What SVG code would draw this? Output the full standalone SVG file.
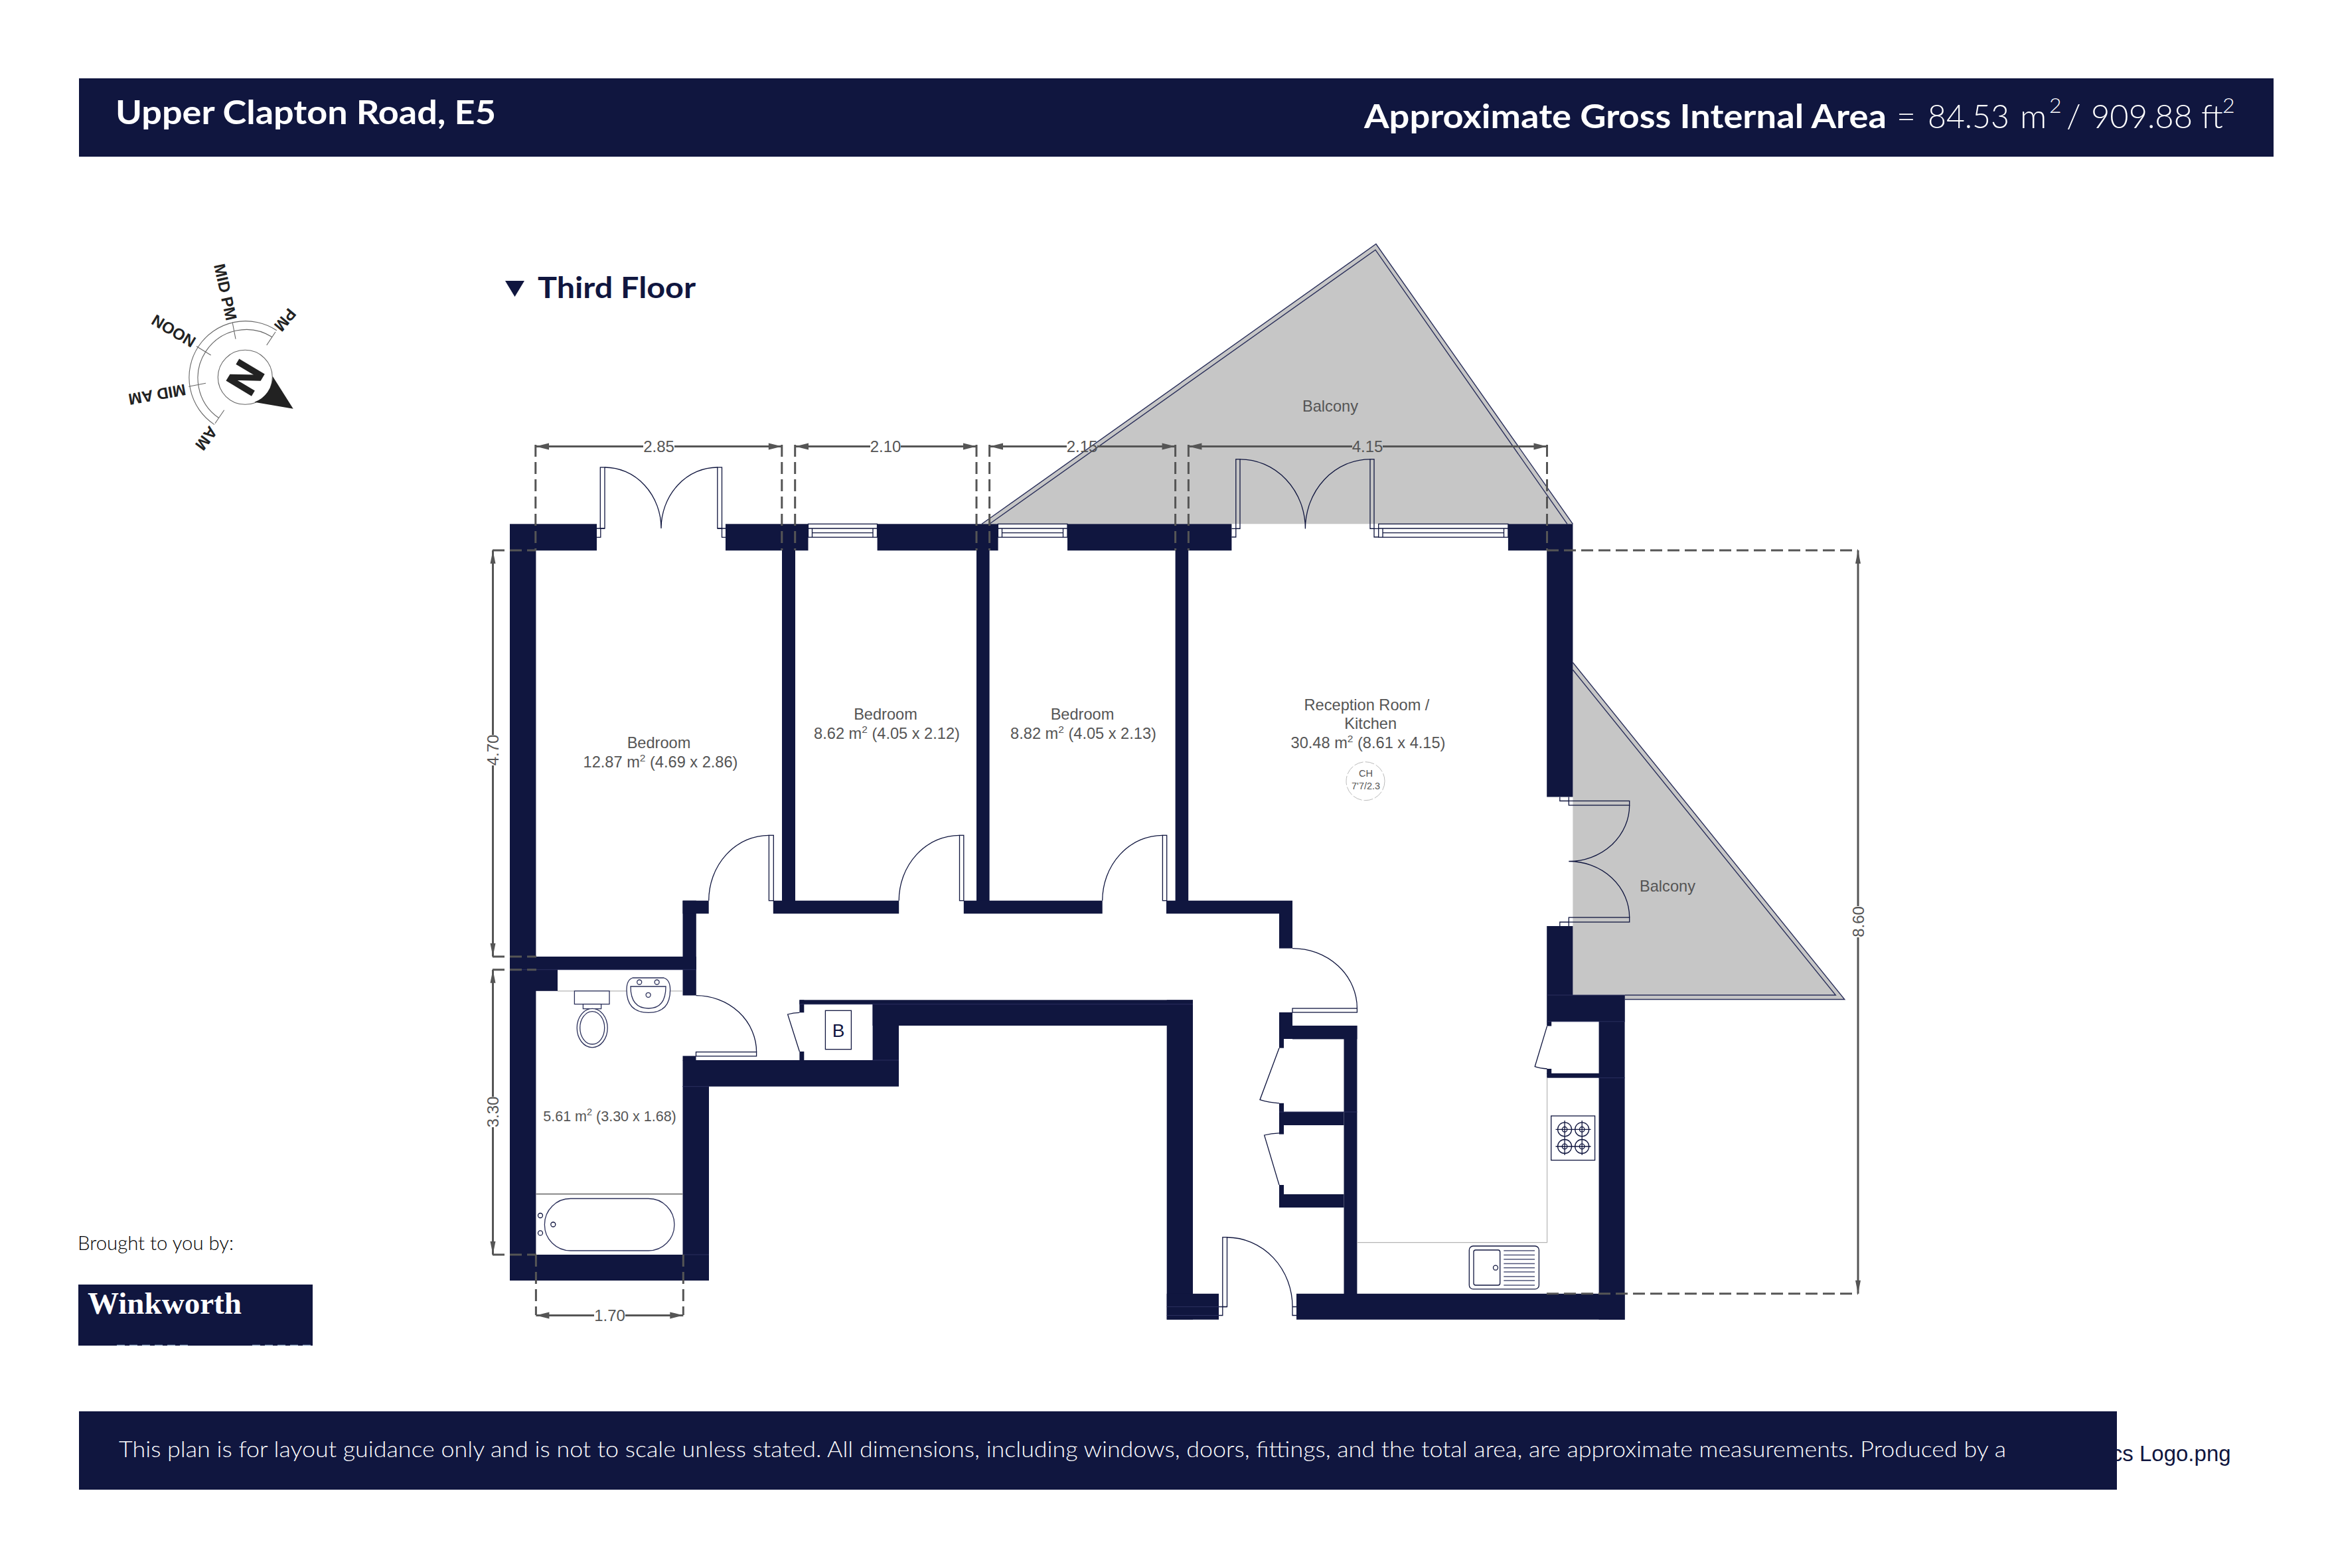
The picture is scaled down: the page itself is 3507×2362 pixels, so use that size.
<svg xmlns="http://www.w3.org/2000/svg" width="3507" height="2362" viewBox="0 0 3507 2362">
<style>
.navy{fill:#10163f}
.l{fill:none;stroke:#10163f;stroke-width:1.3}
.win{fill:#fff;stroke:#10163f;stroke-width:1.3}
.sf{fill:#fff;stroke:#2a2f5a;stroke-width:1.3}
.dim{stroke:#555;stroke-width:3;fill:none}
.dash{stroke:#555;stroke-width:3;fill:none;stroke-dasharray:18 8}
.ah{fill:#555}
.t{font-family:"Liberation Sans",Arial,sans-serif;font-size:23.6px;fill:#555;text-anchor:middle}
.d{font-family:"Liberation Sans",Arial,sans-serif;font-size:24px;fill:#555;text-anchor:middle}
.h{font-family:Lato,"Liberation Sans",sans-serif;fill:#fff}
.c{font-family:"Liberation Sans",Arial,sans-serif;font-weight:bold;font-size:24px;fill:#222;text-anchor:middle}
</style>
<rect width="3507" height="2362" fill="#fff"/>
<g id="header">
<rect class="navy" x="119" y="118" width="3306" height="118"/>
<text class="h" x="174" y="187" font-size="50" font-weight="700" textLength="573" lengthAdjust="spacingAndGlyphs">Upper Clapton Road, E5</text>
<text class="h" x="2055" y="193" font-size="50" font-weight="700" textLength="787" lengthAdjust="spacingAndGlyphs">Approximate Gross Internal Area</text>
<text class="h" x="2857" y="193" font-size="50" font-weight="300">=</text>
<text class="h" x="2904" y="193" font-size="50" font-weight="300" textLength="123" lengthAdjust="spacingAndGlyphs">84.53</text>
<text class="h" x="3043" y="193" font-size="50" font-weight="300">m</text>
<text class="h" x="3087" y="170" font-size="32" font-weight="300">2</text>
<text class="h" x="3113" y="193" font-size="50" font-weight="300">/</text>
<text class="h" x="3150" y="193" font-size="50" font-weight="300" textLength="153" lengthAdjust="spacingAndGlyphs">909.88</text>
<text class="h" x="3316" y="193" font-size="50" font-weight="300">ft</text>
<text class="h" x="3348" y="170" font-size="32" font-weight="300">2</text>
</g>
<g id="compass">
<path d="M416.8 497.8A85 85 0 0 0 323 639.6M410.1 507.8A73 73 0 0 0 329.5 629.5M415 500L401.7 520M350 485L355 510.7M296 521.7L317.7 535M284.3 582.3L310 577.3M324 637.7L337.7 617.7" fill="none" stroke="#666" stroke-width="1.1"/>
<circle cx="369.3" cy="568.3" r="41" fill="none" stroke="#666" stroke-width="1.1"/>
<path d="M410.7 566.7L441.7 615.7L383.3 605.7A41 41 0 0 0 410.7 566.7Z" fill="#222"/>
<text transform="translate(369.3 568.3) rotate(-59)" y="22" text-anchor="middle" font-family="Liberation Sans,Arial,sans-serif" font-weight="bold" font-size="63" fill="#222" stroke="#222" stroke-width="1.5">N</text>
<text class="c" transform="translate(339.3 440) rotate(77.5)" y="8">MID PM</text>
<text class="c" transform="translate(429.3 481.7) rotate(130)" y="8">PM</text>
<text class="c" transform="translate(261.7 498.3) rotate(211)" y="8">NOON</text>
<text class="c" transform="translate(236.7 594) rotate(170)" y="8">MID AM</text>
<text class="c" transform="translate(310.7 660) rotate(127)" y="8">AM</text>
</g>
<g id="floor-title">
<path class="navy" d="M761 423H790L775.5 447Z"/>
<text x="810" y="449" font-family="Lato,Liberation Sans,sans-serif" font-weight="700" font-size="44" class="navy" textLength="238" lengthAdjust="spacingAndGlyphs">Third Floor</text>
</g>
<g id="balconies">
<path d="M1479 789.3L2072.9 367.5L2369.4 789.3Z" fill="#c6c6c6" stroke="none"/>
<path d="M1479 789.3L2072.9 367.5L2369.4 789.3M1490.6 789.3L2072 376.4L2361 789.3" fill="none" stroke="#2a2f5a" stroke-width="1.4"/>
<path d="M2369.4 998L2778.8 1505.5H2447.8V1499H2369.4Z" fill="#c6c6c6"/>
<path d="M2369.4 998L2778.8 1505.5H2447.8M2369.4 1009L2765.3 1499H2447.8" fill="none" stroke="#2a2f5a" stroke-width="1.4"/>
</g>
<g id="walls" class="navy">
<rect x="768" y="789.3" width="131" height="40"/>
<rect x="1093" y="789.3" width="124.5" height="40"/>
<rect x="1321.6" y="789.3" width="182" height="40"/>
<rect x="1608" y="789.3" width="247.4" height="40"/>
<rect x="2271.9" y="789.3" width="97.5" height="40"/>
<rect x="768" y="829" width="39.4" height="1100"/>
<rect x="1178" y="829" width="20" height="528"/>
<rect x="1471" y="829" width="19.6" height="528"/>
<rect x="1770.6" y="829" width="19.6" height="528"/>
<rect x="2330.2" y="829" width="39.2" height="371.5"/>
<rect x="2330.2" y="1395" width="39.2" height="104"/>
<rect x="2330.2" y="1499" width="117.6" height="39.8"/>
<rect x="2408.6" y="1538" width="39" height="450"/>
<rect x="2330.2" y="1616.8" width="80" height="6.9"/>
<rect x="2330.2" y="1538" width="7" height="7.6"/>
<rect x="2330.2" y="1610" width="7" height="8"/>
<rect x="1953" y="1948.8" width="494.6" height="39"/>
<rect x="1757.7" y="1506.4" width="39.3" height="481.4"/>
<rect x="1757.7" y="1948.8" width="78.3" height="39"/>
<rect x="1164.8" y="1356.7" width="189.4" height="19.6"/>
<rect x="1451.8" y="1356.7" width="208.9" height="19.6"/>
<rect x="1757" y="1356.7" width="190" height="19.6"/>
<rect x="1927" y="1376" width="20" height="52.6"/>
<rect x="1927" y="1525" width="20" height="40"/>
<rect x="1947" y="1545" width="97.4" height="20.4"/>
<rect x="2024.5" y="1545" width="19.9" height="404"/>
<rect x="1927" y="1565" width="7" height="13.7"/>
<rect x="1927" y="1675" width="97.5" height="20"/>
<rect x="1927" y="1661.8" width="7" height="13.5"/>
<rect x="1927" y="1695" width="7" height="13.6"/>
<rect x="1927" y="1799" width="97.5" height="20"/>
<rect x="1927" y="1785" width="7" height="14"/>
<rect x="1204.4" y="1506.3" width="592.6" height="6.4"/>
<rect x="1314.6" y="1512" width="482.4" height="33"/>
<rect x="1314.6" y="1512" width="39.4" height="90"/>
<rect x="1028.5" y="1597" width="325.5" height="39.7"/>
<rect x="1204.4" y="1506.3" width="6.9" height="19"/>
<rect x="1204.4" y="1584" width="6.9" height="13.5"/>
<rect x="1028.5" y="1636" width="39.5" height="293"/>
<rect x="768" y="1890" width="300" height="39"/>
<rect x="1028.5" y="1356.7" width="20.3" height="142.8"/>
<rect x="1028.5" y="1356.7" width="39.2" height="19.6"/>
<rect x="768" y="1441" width="280.8" height="19.7"/>
<rect x="807" y="1460" width="33" height="32.8"/>
<rect x="1028.5" y="1590.6" width="20" height="7"/>
</g>
<path id="seams" d="M768 1460.7H1048.8M1028.5 1636.7H1068M1028.5 1890H1068M1314.6 1597H1354M1204.4 1512.7H1797M2330.2 1499H2447.8M2330.2 1538.8H2447.8M2408.6 1623.7H2447.8M1757.7 1968.5H1836M1757.7 1981.5H1836M1927 1675H2044.4" fill="none" stroke="#2a2f5e" stroke-width="1"/>
<g id="windows">
<rect class="win" x="1217.5" y="789.3" width="104" height="20"/><path class="l" d="M1217.5 796H1321.5M1223.5 796V809.3M1315 796V809.3M1223.5 802.7H1315"/>
<rect class="win" x="1503.4" y="789.3" width="104.6" height="20"/><path class="l" d="M1503.4 796H1608M1509.5 796V809.3M1601.5 796V809.3M1509.5 802.7H1601.5"/>
<rect class="win" x="2076.7" y="789.3" width="195.2" height="20"/><path class="l" d="M2076.7 796H2271.9M2083 796V809.3M2265.5 796V809.3M2083 802.7H2265.5"/>
</g>
<g id="doors" class="l">
<rect x="904.3" y="704" width="6.7" height="92"/><path d="M899 796H911M904.8 796V809.3H899M911 704A85 92 0 0 1 996 796A85 92 0 0 1 1081 704"/><rect x="1080.8" y="704" width="6.7" height="92"/><path d="M1081 796H1093M1087.5 796V809.3H1093"/>
<rect x="1861.8" y="691.8" width="6.2" height="104.6"/><path d="M1855.4 796.4H1868M1861.8 796.4V809H1855.4M1868 691.8A98.4 104.6 0 0 1 1966.4 796.4A97.6 104.6 0 0 1 2064 691.8"/><rect x="2064" y="691.8" width="6" height="104.6"/><path d="M2064 796.4H2076.7M2070 796.4V809H2076.7"/>
<rect x="1158.4" y="1258.3" width="6.9" height="98.4"/><path d="M1158.4 1258.3A90.7 98.4 0 0 0 1067.7 1356.7"/>
<rect x="1445.5" y="1258.3" width="6.3" height="98.4"/><path d="M1445.5 1258.3A91.3 98.4 0 0 0 1354.2 1356.7"/>
<rect x="1751.4" y="1258.3" width="6.3" height="98.4"/><path d="M1751.4 1258.3A90.7 98.4 0 0 0 1660.7 1356.7"/>
<rect x="1048.5" y="1584.7" width="91.1" height="6.3"/><path d="M1048.5 1499.7A91.1 85 0 0 1 1139.6 1584.7"/>
<rect x="1947" y="1519" width="97.4" height="6"/><path d="M1947 1428.6A97.4 90.4 0 0 1 2044.4 1519"/>
<rect x="1841.8" y="1863.8" width="6.7" height="104.7"/><path d="M1836 1968.5H1848.5M1841.8 1968.5V1981.5H1836M1848.5 1864A98.5 104.5 0 0 1 1947 1968.5V1981.5H1953M1947 1968.5H1953"/>
<rect x="2363.3" y="1206.5" width="91.4" height="6.5"/><path d="M2349.8 1200.5V1206.5H2363.3V1200.5M2454.7 1213A91.4 84.5 0 0 1 2363.3 1297.5A91.4 84.5 0 0 1 2454.7 1382"/><rect x="2363.3" y="1382" width="91.4" height="7"/><path d="M2349.8 1395V1389H2363.3V1395"/>
<path d="M2330.6 1545.6L2312.2 1606.7Q2320 1609.5 2330.6 1610M1927 1578.7L1898 1656.7Q1912 1661 1927 1661.8M1927 1706.8Q1915 1707 1904.6 1710L1927 1785M1204.4 1525.3Q1195 1525.5 1186.6 1528L1204.4 1584"/>
</g>
<g id="fixtures">
<path d="M840 1492.8H1028.5M2330.6 1623.7V1871.6H2044.4" fill="none" stroke="#b5b5b5" stroke-width="1.2"/>
<path d="M807.4 1798.6H1028.4" fill="none" stroke="#777" stroke-width="1.6"/>
<g id="bath" class="l">
<rect class="sf" x="820.4" y="1805.5" width="195.5" height="78.5" rx="39" ry="39"/>
<circle cx="814" cy="1831" r="3.5"/><circle cx="814" cy="1857.4" r="3.5"/><circle cx="833.3" cy="1844.5" r="3.5"/>
</g>
<g id="wc" class="sf">
<rect x="865.4" y="1492.8" width="52.6" height="19.8"/>
<rect x="878.4" y="1512.6" width="27.2" height="7"/>
<ellipse cx="892.2" cy="1548.6" rx="23" ry="29.2"/><ellipse cx="892.2" cy="1548.3" rx="18.5" ry="24.7"/>
</g>
<g id="basin" class="sf">
<path d="M953 1473H1000Q1009.6 1476 1009.6 1491Q1009.6 1525.4 977 1525.4Q944 1525.4 944 1491Q944 1476 953 1473Z"/>
<path d="M950 1486H1003Q1003 1519 977 1519Q950 1519 950 1486Z"/>
<circle cx="963.2" cy="1479.5" r="3.5"/><circle cx="989.6" cy="1479.5" r="3.5"/><circle cx="976.6" cy="1498.8" r="3.5"/>
</g>
<g id="boiler">
<rect class="l" x="1243.4" y="1522.3" width="39" height="58.4"/>
<text x="1263" y="1561.7" class="navy" font-family="Liberation Sans,Arial,sans-serif" font-size="28" text-anchor="middle">B</text>
</g>
<g id="hob" class="l">
<rect x="2336.7" y="1681" width="65.9" height="66.7"/>
<circle cx="2357.1" cy="1701.3" r="10.5"/><circle cx="2357.1" cy="1701.3" r="3.8"/>
<circle cx="2383.2" cy="1701.3" r="10.5"/><circle cx="2383.2" cy="1701.3" r="3.8"/>
<circle cx="2357.1" cy="1727" r="10.5"/><circle cx="2357.1" cy="1727" r="3.8"/>
<circle cx="2383.2" cy="1727" r="10.5"/><circle cx="2383.2" cy="1727" r="3.8"/>
<path d="M2343.5 1701.3H2396.5M2343.5 1727H2396.5M2357.1 1688V1740M2383.2 1688V1740"/>
</g>
<g id="sink">
<rect class="l" x="2213.3" y="1877" width="105.1" height="64.9" rx="6"/>
<rect class="l" x="2220" y="1883" width="39.7" height="53" rx="3"/>
<circle class="l" cx="2253" cy="1909.7" r="3.5"/>
<path d="M2265.3 1884H2312M2265.3 1890.5H2312M2265.3 1897H2312M2265.3 1903.4H2312M2265.3 1909.7H2312M2265.3 1916H2312M2265.3 1923H2312M2265.3 1929H2312M2265.3 1936H2312" fill="none" stroke="#50557a" stroke-width="1.5"/>
</g>
<g id="ch">
<circle cx="2057" cy="1176.7" r="29" fill="none" stroke="#bbb" stroke-width="1" stroke-dasharray="14 3"/>
<text x="2057.6" y="1170" text-anchor="middle" font-family="Liberation Sans,Arial,sans-serif" font-size="14.5" fill="#555">CH</text>
<text x="2057.6" y="1189" text-anchor="middle" font-family="Liberation Sans,Arial,sans-serif" font-size="14.5" fill="#555">7'7/2.3</text>
</g>
</g>
<g id="dimensions">
<path class="dash" d="M806.8 670V829M1177.8 670V829M1197.7 670V829M1471 670V829M1490.6 670V829M1770.6 670V829M1790.4 670V829M2330.5 670V829M742 829H807M2330 829H2799M742 1441H808M742 1460.7H808M742 1890H808M2330 1948.8H2799M807.4 1890V1981M1029.3 1890V1981"/>
<path class="dim" d="M807 672.4H969M1016 672.4H1177.8M1198 672.4H1311M1357 672.4H1471M1491 672.4H1607M1653 672.4H1770.6M1790.4 672.4H2037M2083 672.4H2330.5M742.5 829V1107M742.5 1153V1441M742.5 1460.7V1652M742.5 1698V1890M2799 829V1365M2799 1412V1948.8M807.4 1981.4H895M942 1981.4H1029.3"/>
<path class="ah" d="M807 672.4l20-5v10ZM1177.8 672.4l-20-5v10ZM1198 672.4l20-5v10ZM1471 672.4l-20-5v10ZM1491 672.4l20-5v10ZM1770.6 672.4l-20-5v10ZM1790.4 672.4l20-5v10ZM2330.5 672.4l-20-5v10ZM742.5 829l-4 20h8ZM742.5 1441l-4-20h8ZM742.5 1460.7l-4 20h8ZM742.5 1890l-4-20h8ZM2799 829l-4 20h8ZM2799 1948.8l-4-20h8ZM807.4 1981.4l20-5v10ZM1029.3 1981.4l-20-5v10Z"/>
<text class="d" x="992.5" y="681">2.85</text><text class="d" x="1334" y="681">2.10</text><text class="d" x="1630" y="681">2.15</text><text class="d" x="2060" y="681">4.15</text>
<text class="d" transform="translate(751 1130) rotate(-90)">4.70</text>
<text class="d" transform="translate(751 1675) rotate(-90)">3.30</text>
<text class="d" transform="translate(2807.5 1388.5) rotate(-90)">8.60</text>
<text class="d" x="918.6" y="1990">1.70</text>
</g>
<g id="room-labels">
<text class="t" x="992.5" y="1127">Bedroom</text>
<text class="t" x="995" y="1155.5">12.87 m<tspan dy="-9" font-size="15.5">2</tspan><tspan dy="9"> (4.69 x 2.86)</tspan></text>
<text class="t" x="1334" y="1084.3">Bedroom</text>
<text class="t" x="1336" y="1112.7">8.62 m<tspan dy="-9" font-size="15.5">2</tspan><tspan dy="9"> (4.05 x 2.12)</tspan></text>
<text class="t" x="1630.5" y="1084.3">Bedroom</text>
<text class="t" x="1632" y="1112.7">8.82 m<tspan dy="-9" font-size="15.5">2</tspan><tspan dy="9"> (4.05 x 2.13)</tspan></text>
<text class="t" x="2059" y="1070">Reception Room /</text>
<text class="t" x="2064.7" y="1098">Kitchen</text>
<text class="t" x="2061" y="1126.7">30.48 m<tspan dy="-9" font-size="15.5">2</tspan><tspan dy="9"> (8.61 x 4.15)</tspan></text>
<text class="t" x="918.5" y="1689" style="font-size:21.5px">5.61 m<tspan dy="-9" font-size="14.5">2</tspan><tspan dy="9"> (3.30 x 1.68)</tspan></text>
<text class="t" x="2004" y="620.4">Balcony</text>
<text class="t" x="2512" y="1343">Balcony</text>
</g>
<g id="brand">
<text x="117" y="1883" font-family="Lato,Liberation Sans,sans-serif" font-weight="300" font-size="30" fill="#000" textLength="235" lengthAdjust="spacingAndGlyphs">Brought to you by:</text>
<rect class="navy" x="118" y="1935" width="353" height="92"/>
<text x="132" y="1979" font-family="Liberation Serif,Times New Roman,serif" font-weight="bold" font-size="47" fill="#fff" textLength="232" lengthAdjust="spacingAndGlyphs">Winkworth</text>
<path d="M176 2026.4H284M380 2026.4H469" stroke="#8fa6c4" stroke-width="1.2" stroke-dasharray="12 7"/>
</g>
<g id="footer">
<text x="3360.6" y="2201" text-anchor="end" class="navy" font-family="Liberation Sans,Arial,sans-serif" font-size="33">cs Logo.png</text>
<rect class="navy" x="119" y="2126" width="3070" height="118"/>
<text class="h" x="179" y="2195" font-size="34" font-weight="300" textLength="2843" lengthAdjust="spacingAndGlyphs">This plan is for layout guidance only and is not to scale unless stated. All dimensions, including windows, doors, fittings, and the total area, are approximate measurements. Produced by a</text>
</g>
</svg>
